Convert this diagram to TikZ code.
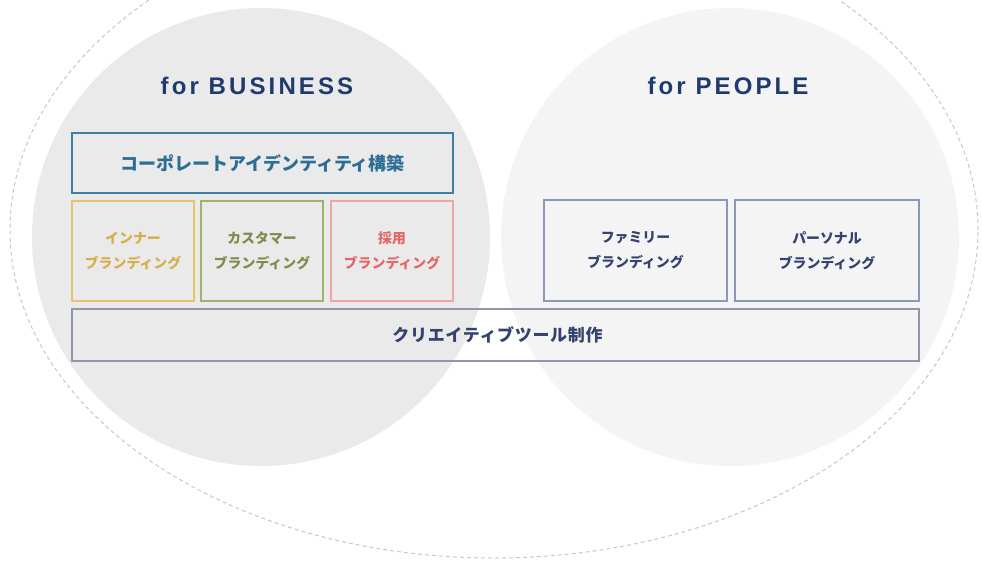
\documentclass[tikz,border=0pt]{standalone}
\usepackage{fontspec}
\newfontfamily\jp{Noto Sans CJK JP}
\newfontfamily\ttl[LetterSpace=13]{Liberation Sans}
\newfontfamily\jpwide[LetterSpace=4]{Noto Sans CJK JP}
\definecolor{bizgray}{HTML}{EAEAEB}
\definecolor{peoplegray}{HTML}{F4F4F5}
\definecolor{dashgray}{HTML}{C8C8CA}
\definecolor{titlecol}{HTML}{1E3A6E}
\definecolor{corpline}{HTML}{3F7FA3}
\definecolor{corptext}{HTML}{2D6E95}
\definecolor{innerline}{HTML}{E5C56A}
\definecolor{innertext}{HTML}{D6AF4C}
\definecolor{custline}{HTML}{A3B26B}
\definecolor{custtext}{HTML}{7D8D4D}
\definecolor{recline}{HTML}{F0A5A5}
\definecolor{rectext}{HTML}{E66666}
\definecolor{pplline}{HTML}{8D97B8}
\definecolor{ppltext}{HTML}{33426E}
\definecolor{toolline}{HTML}{8F97AD}
\begin{document}
\begin{tikzpicture}[x=1pt,y=-1pt,
  svc/.style={draw, line width=1.2pt, inner sep=0pt, outer sep=0pt, align=center,
    font=\jp\bfseries\fontsize{13.9pt}{25pt}\selectfont},
  ttlstyle/.style={inner sep=0pt, text=titlecol, font=\ttl\bfseries\fontsize{24pt}{26pt}\selectfont}]
\useasboundingbox (0,0) rectangle (982,563);
\clip (0,0) rectangle (982,563);
\fill[white] (0,0) rectangle (982,563);
% circles
\fill[bizgray] (261,237) circle (229pt);
\fill[peoplegray] (730,237) circle (229pt);
% outer dashed ellipse
\draw[dashgray, line width=1pt, dash pattern=on 4pt off 3pt] (494,230) ellipse [x radius=484pt, y radius=328pt];
% titles
\node[ttlstyle] (tbiz) at (257,86) {for BUSINESS};
\node[ttlstyle] (tppl) at (728,86) {for PEOPLE};
% boxes
\node[svc, draw=corpline, text=corptext, minimum width=381pt, minimum height=60pt,
  font=\jp\bfseries\fontsize{18pt}{20pt}\selectfont] (corp) at (262.5,163) {コーポレートアイデンティティ構築};
\node[svc, draw=innerline, text=innertext, minimum width=122pt, minimum height=100pt] (inner) at (133,251) {インナー\\ブランディング};
\node[svc, draw=custline, text=custtext, minimum width=122pt, minimum height=100pt] (cust) at (262,251) {カスタマー\\ブランディング};
\node[svc, draw=recline, text=rectext, minimum width=122pt, minimum height=100pt] (rec) at (392,251) {採用\\ブランディング};
\node[svc, draw=pplline, text=ppltext, minimum width=183pt, minimum height=101pt] (fam) at (635.5,250.5) {ファミリー\\ブランディング};
\node[svc, draw=pplline, text=ppltext, minimum width=184pt, minimum height=101pt] (pers) at (827,250.5) {パーソナル\\ブランディング};
\node[svc, draw=toolline, text=ppltext, minimum width=847pt, minimum height=52pt,
  font=\jpwide\bfseries\fontsize{17pt}{19pt}\selectfont] (tool) at (495.5,335) {\hspace*{4pt}クリエイティブツール制作};
\end{tikzpicture}
\end{document}
